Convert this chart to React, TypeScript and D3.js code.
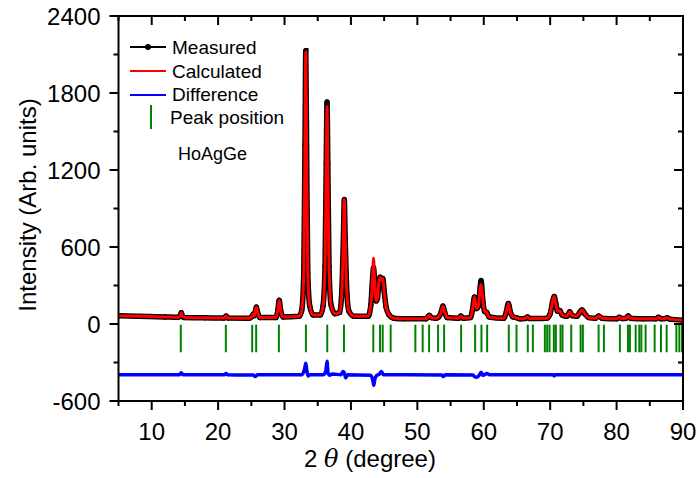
import React from 'react';
import * as d3 from 'd3';

// measured profile, [2theta, intensity]
const measured: [number, number][] = [
  [5, 65], [8, 60], [12, 55], [14.0, 52], [14.3, 65], [14.45, 88], [14.6, 65], [14.9, 50],
  [18, 48], [20.9, 46], [21.2, 62], [21.5, 46], [24.7, 45], [25.1, 60], [25.3, 78], [25.45, 65],
  [25.6, 95], [25.75, 132], [25.95, 90], [26.3, 50], [28.7, 50], [29.0, 110], [29.2, 185],
  [29.4, 110], [29.8, 55], [32.2, 60], [32.6, 110], [32.9, 400], [33.08, 1400], [33.2, 2130],
  [33.32, 1400], [33.5, 400], [33.8, 140], [34.3, 70], [35.4, 70], [35.8, 140], [36.1, 450],
  [36.28, 1250], [36.4, 1730], [36.52, 1250], [36.7, 450], [37.0, 150], [37.6, 80], [38.3, 90],
  [38.6, 230], [38.87, 680], [39.0, 970], [39.13, 680], [39.4, 230], [39.7, 100], [40.5, 60],
  [42.6, 60], [43.0, 150], [43.25, 350], [43.4, 440], [43.55, 350], [43.8, 180], [44.0, 200],
  [44.2, 320], [44.4, 365], [44.6, 340], [44.8, 355], [45.0, 260], [45.3, 130], [45.7, 75],
  [46.5, 45], [48, 40], [51.3, 40], [51.6, 55], [51.8, 68], [52.1, 50], [52.8, 45], [53.2, 55],
  [53.6, 95], [53.85, 140], [54.1, 95], [54.5, 50], [56.2, 45], [56.55, 62], [56.9, 45],
  [58.0, 50], [58.3, 110], [58.6, 210], [58.9, 120], [59.2, 140], [59.45, 280], [59.6, 338],
  [59.8, 220], [60.1, 100], [60.45, 90], [60.8, 55], [63.0, 45], [63.4, 95], [63.7, 160],
  [64.0, 95], [64.4, 55], [64.9, 50], [65.5, 40], [66.3, 45], [66.6, 55], [66.9, 42],
  [69.5, 45], [70.0, 80], [70.35, 170], [70.6, 215], [70.85, 160], [71.1, 100], [71.45, 105],
  [71.8, 70], [72.5, 60], [72.95, 95], [73.3, 65], [74.0, 60], [74.5, 95], [74.8, 110],
  [75.2, 80], [75.8, 50], [76.8, 45], [77.3, 62], [77.8, 45], [80.0, 40], [80.4, 52],
  [80.8, 42], [81.4, 45], [81.75, 63], [82.1, 45], [84, 40], [85.9, 40], [86.3, 52],
  [86.7, 40], [87.3, 42], [87.6, 48], [88, 38], [90, 30],
];

// peak tops where the fit differs from the measurement
const calcTops: [number, number][] = [[33.2, 2120], [36.4, 1695], [43.4, 512], [59.6, 305]];

const difference: [number, number][] = [
  [5, -395], [14.2, -395], [14.45, -380], [14.7, -395], [21.0, -395], [21.2, -385], [21.4, -395],
  [25.3, -398], [25.6, -410], [25.9, -395], [32.6, -395], [32.9, -370], [33.1, -330],
  [33.2, -305], [33.35, -360], [33.55, -405], [33.8, -395], [35.8, -395], [36.2, -370],
  [36.4, -290], [36.55, -380], [36.8, -400], [37.2, -390], [38.5, -395], [38.8, -370],
  [39.0, -380], [39.2, -420], [39.5, -395], [43.0, -400], [43.3, -440], [43.45, -478],
  [43.6, -430], [43.9, -400], [44.3, -390], [44.6, -370], [44.9, -395], [45.3, -395],
  [53.7, -398], [53.9, -410], [54.2, -395], [58.4, -398], [58.6, -410], [58.9, -415],
  [59.3, -400], [59.6, -375], [59.9, -400], [60.5, -385], [60.8, -395], [70.4, -395],
  [70.6, -405], [70.8, -395], [90, -395],
];

const peakPositions = [
  14.38, 21.16, 25.13, 25.73, 29.15, 33.22, 36.43, 38.95, 43.37, 44.38, 44.78, 45.98,
  49.7, 50.8, 51.77, 53.12, 54.03, 56.59, 58.7, 59.65, 60.51, 63.77, 64.93, 66.63, 67.39,
  69.2, 69.55, 69.9, 70.55, 70.85, 71.56, 71.86, 73.17, 74.58, 74.92, 77.29, 78.09, 80.5,
  81.71, 82.01, 82.87, 83.42, 83.73, 84.37, 85.73, 86.68, 87.54, 89.0, 89.45, 89.85,
];

const xTicks = [10, 20, 30, 40, 50, 60, 70, 80, 90];
const xMinor = [5, 15, 25, 35, 45, 55, 65, 75, 85];
const yTicks = [-600, 0, 600, 1200, 1800, 2400];
const yMinor = [-300, 300, 900, 1500, 2100];
const legendLabels = ['Measured', 'Calculated', 'Difference', 'Peak position'];
const phaseLabel = 'HoAgGe';

const W = 697;
const H = 478;
const font = 'Liberation Sans, Arial, sans-serif';

export default function App() {
  const x = d3.scaleLinear().domain([5, 90]).range([118.5, 683]);
  const y = d3.scaleLinear().domain([-600, 2400]).range([401, 16]);
  const [x0, x1] = x.range();
  const [y0, y1] = y.range();

  const calculated = measured.map(([t, v]) => {
    const top = calcTops.find(d => d[0] === t);
    return [t, top ? top[1] : v] as [number, number];
  });

  const line = d3.line<[number, number]>()
    .x(d => x(d[0]))
    .y(d => y(d[1]))
    .curve(d3.curveMonotoneX);

  return (
    <svg width={W} height={H} style={{ position: 'absolute', left: 0, top: 0 }} fontFamily={font}>
      <defs>
        <clipPath id="plot">
          <rect x={x0} y={y1} width={x1 - x0} height={y0 - y1} />
        </clipPath>
      </defs>
      <g clipPath="url(#plot)">
        {peakPositions.map((p, i) => (
          <line key={i} x1={x(p)} x2={x(p)} y1={y(-5)} y2={y(-220)} stroke="#008000" strokeWidth={2} />
        ))}
        <path d={line(difference) || ''} fill="none" stroke="#0000ff" strokeWidth={3.5} />
        <path d={line(measured) || ''} fill="none" stroke="#000" strokeWidth={5.5} />
        {measured.map((d, i) => (
          <circle key={i} cx={x(d[0])} cy={y(d[1])} r={2.6} fill="#000" />
        ))}
        <path d={line(calculated) || ''} fill="none" stroke="#ff0000" strokeWidth={3} />
      </g>

      <rect x={x0} y={y1} width={x1 - x0} height={y0 - y1} fill="none" stroke="#000" strokeWidth={2} />

      {xTicks.map(t => (
        <g key={t}>
          <line x1={x(t)} x2={x(t)} y1={y0} y2={y0 + 9} stroke="#000" strokeWidth={2} />
          <line x1={x(t)} x2={x(t)} y1={y1} y2={y1 + 9} stroke="#000" strokeWidth={2} />
          <text x={x(t)} y={y0 + 39} fontSize={24} textAnchor="middle">{t}</text>
        </g>
      ))}
      {xMinor.map(t => (
        <g key={t}>
          <line x1={x(t)} x2={x(t)} y1={y0} y2={y0 + 5} stroke="#000" strokeWidth={2} />
          <line x1={x(t)} x2={x(t)} y1={y1} y2={y1 + 5} stroke="#000" strokeWidth={2} />
        </g>
      ))}
      {yTicks.map(t => (
        <g key={t}>
          <line x1={x0 - 9} x2={x0} y1={y(t)} y2={y(t)} stroke="#000" strokeWidth={2} />
          <line x1={x1 - 9} x2={x1} y1={y(t)} y2={y(t)} stroke="#000" strokeWidth={2} />
          <text x={x0 - 18} y={y(t) + 8.5} fontSize={24} textAnchor="end">{t}</text>
        </g>
      ))}
      {yMinor.map(t => (
        <g key={t}>
          <line x1={x0 - 5} x2={x0} y1={y(t)} y2={y(t)} stroke="#000" strokeWidth={2} />
          <line x1={x1 - 5} x2={x1} y1={y(t)} y2={y(t)} stroke="#000" strokeWidth={2} />
        </g>
      ))}

      <text x={370} y={467} fontSize={24} textAnchor="middle">
        2 <tspan fontStyle="italic" fontFamily="DejaVu Serif, serif">θ</tspan> (degree)
      </text>
      <text transform="translate(36,205) rotate(-90)" fontSize={24} textAnchor="middle">
        Intensity (Arb. units)
      </text>

      <g fontSize={19}>
        <line x1={130} x2={166} y1={47} y2={47} stroke="#000" strokeWidth={2} />
        <circle cx={148} cy={47} r={3} fill="#000" />
        <text x={172} y={54}>{legendLabels[0]}</text>
        <line x1={130} x2={166} y1={71} y2={71} stroke="#ff0000" strokeWidth={2} />
        <text x={172} y={78}>{legendLabels[1]}</text>
        <line x1={130} x2={166} y1={95} y2={95} stroke="#0000ff" strokeWidth={2} />
        <text x={172} y={101}>{legendLabels[2]}</text>
        <line x1={151} x2={151} y1={105} y2={129} stroke="#008000" strokeWidth={2} />
        <text x={170} y={124}>{legendLabels[3]}</text>
        <text x={178} y={160} fontSize={18}>{phaseLabel}</text>
      </g>
    </svg>
  );
}
